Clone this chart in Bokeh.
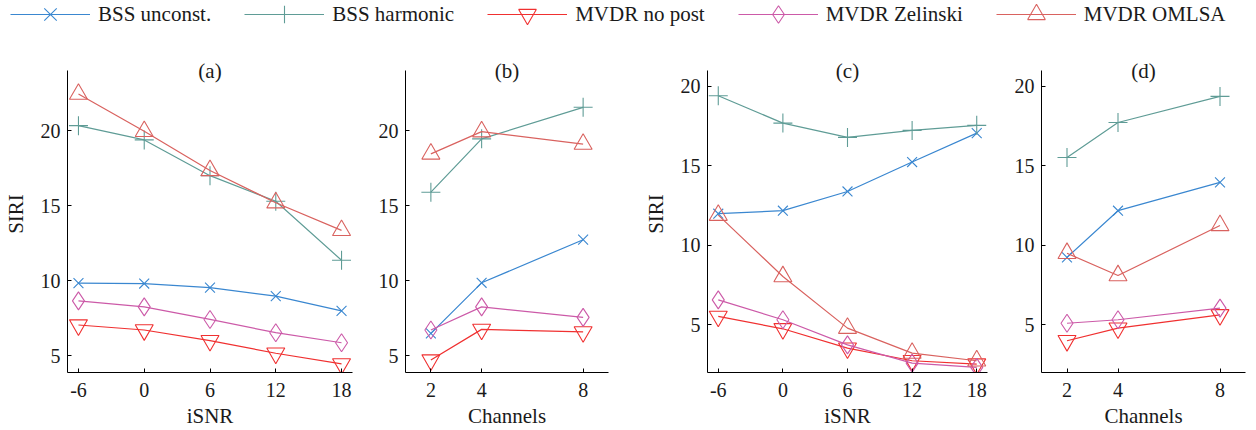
from bokeh.plotting import figure
from bokeh.layouts import column, row
from bokeh.models import Legend, LegendItem, Label, FixedTicker
from bokeh.embed import file_html
from bokeh.resources import INLINE

FONT = "Liberation Serif"
TXT = "#1a1a1a"

# ---------------- data ----------------
isnr = [-6, 0, 6, 12, 18]
isnr_labels = ["-6", "0", "6", "12", "18"]
channels = [2, 4, 8]
channel_labels = ["2", "4", "8"]
y_ticks = [5, 10, 15, 20]
y_tick_labels = ["5", "10", "15", "20"]

series_names = ["BSS unconst.", "BSS harmonic", "MVDR no post", "MVDR Zelinski", "MVDR OMLSA"]
series_colors = ["#3a87d0", "#5f9c96", "#f03030", "#cc5aa8", "#d9625f"]
series_markers = ["x", "cross", "inverted_triangle", "diamond", "triangle"]

# (a) SIRI vs iSNR
a_bss_unconst = [9.85, 9.82, 9.55, 8.98, 8.0]
a_bss_harmonic = [20.33, 19.38, 17.0, 15.3, 11.37]
a_mvdr_nopost = [7.06, 6.73, 6.02, 5.18, 4.47]
a_mvdr_zelinski = [8.67, 8.27, 7.43, 6.55, 5.88]
a_mvdr_omlsa = [22.43, 19.95, 17.35, 15.2, 13.36]

# (b) SIRI vs channels
b_bss_unconst = [6.5, 9.87, 12.74]
b_bss_harmonic = [15.9, 19.45, 21.55]
b_mvdr_nopost = [4.73, 6.77, 6.6]
b_mvdr_zelinski = [6.73, 8.27, 7.57]
b_mvdr_omlsa = [18.45, 19.93, 19.1]

# (c) SIRI vs iSNR
c_bss_unconst = [11.99, 12.18, 13.39, 15.24, 17.06]
c_bss_harmonic = [19.41, 17.69, 16.79, 17.23, 17.55]
c_mvdr_nopost = [5.53, 4.75, 3.53, 2.74, 2.53]
c_mvdr_zelinski = [6.57, 5.32, 3.74, 2.59, 2.32]
c_mvdr_omlsa = [11.9, 8.04, 4.79, 3.22, 2.74]

# (d) SIRI vs channels
d_bss_unconst = [9.24, 12.18, 13.96]
d_bss_harmonic = [15.53, 17.73, 19.37]
d_mvdr_nopost = [4.0, 4.79, 5.63]
d_mvdr_zelinski = [5.1, 5.32, 6.05]
d_mvdr_omlsa = [9.5, 8.1, 11.25]

# ---------------- styling ----------------
marker_sizes = {"x": 14, "cross": 19, "inverted_triangle": 18, "diamond": 18, "triangle": 18}
LEG_H = 26
ROW_H = 404
TOP = 29        # border above the (extended) frame
BOTTOM = 58     # border below the frame
FRAME_H = ROW_H - TOP - BOTTOM
PAD_PX = 15     # headroom above the axis line, for the panel letters


def make_panel(title, xs, ys_list, x_rng, y_lo, y_hi, xticks, xlabels, xlabel, ylabel,
               width, mbl, mbr):
    unit = (FRAME_H - PAD_PX) / (y_hi - y_lo)
    y_top = y_hi + PAD_PX / unit
    p = figure(width=width, height=ROW_H, x_range=x_rng, y_range=(y_lo, y_top),
               output_backend="svg", toolbar_location=None,
               min_border_left=mbl, min_border_right=mbr,
               min_border_top=TOP, min_border_bottom=BOTTOM)
    p.outline_line_color = None
    p.xgrid.grid_line_color = None
    p.ygrid.grid_line_color = None
    p.background_fill_color = "white"
    p.border_fill_color = "white"

    for ys, col, mk in zip(ys_list, series_colors, series_markers):
        p.line(xs, ys, line_color=col, line_width=1.2)
        p.scatter(xs, ys, marker=mk, size=marker_sizes[mk], line_color=col,
                  fill_color=None, line_width=1.1)

    p.xaxis.ticker = FixedTicker(ticks=xticks)
    p.xaxis.major_label_overrides = {t: l for t, l in zip(xticks, xlabels)}
    p.yaxis.ticker = FixedTicker(ticks=y_ticks)
    p.yaxis.major_label_overrides = {t: l for t, l in zip(y_ticks, y_tick_labels)}
    p.yaxis.bounds = (y_lo, y_hi)

    for ax in (p.xaxis[0], p.yaxis[0]):
        ax.axis_line_color = "black"
        ax.axis_line_width = 1
        ax.major_tick_line_color = "black"
        ax.major_tick_in = 4
        ax.major_tick_out = 0
        ax.minor_tick_line_color = None
        ax.major_label_text_font = FONT
        ax.major_label_text_font_size = "20px"
        ax.major_label_text_color = TXT
        ax.axis_label_text_font = FONT
        ax.axis_label_text_font_size = "21px"
        ax.axis_label_text_font_style = "normal"
        ax.axis_label_text_color = TXT
    p.xaxis.major_label_standoff = 10
    p.xaxis.axis_label_standoff = 4
    p.yaxis.major_label_standoff = 7
    p.yaxis.axis_label_standoff = 10
    p.xaxis.axis_label = xlabel
    if ylabel:
        p.yaxis.axis_label = ylabel

    p.add_layout(Label(x=(x_rng[0] + x_rng[1]) / 2, y=y_hi, text=title,
                       text_align="center", text_baseline="middle",
                       text_font=FONT, text_font_size="21px", text_color=TXT))
    return p


pa = make_panel("(a)", isnr,
                [a_bss_unconst, a_bss_harmonic, a_mvdr_nopost, a_mvdr_zelinski, a_mvdr_omlsa],
                (-7, 19), 3.9, 24, isnr, isnr_labels, "iSNR", "SIRI", 372, 64, 20)
pb = make_panel("(b)", channels,
                [b_bss_unconst, b_bss_harmonic, b_mvdr_nopost, b_mvdr_zelinski, b_mvdr_omlsa],
                (1, 9), 3.9, 24, channels, channel_labels, "Channels", None, 268, 33, 32)
pc = make_panel("(c)", isnr,
                [c_bss_unconst, c_bss_harmonic, c_mvdr_nopost, c_mvdr_zelinski, c_mvdr_omlsa],
                (-7, 19), 2, 21, isnr, isnr_labels, "iSNR", "SIRI", 365, 60, 18)
pd = make_panel("(d)", channels,
                [d_bss_unconst, d_bss_harmonic, d_mvdr_nopost, d_mvdr_zelinski, d_mvdr_omlsa],
                (1, 9), 2, 21, channels, channel_labels, "Channels", None, 243, 36, 3)

# ---------------- legend strip ----------------
lf = figure(width=1248, height=LEG_H, x_range=(0, 1), y_range=(0, 1),
            output_backend="svg", toolbar_location=None,
            x_axis_type=None, y_axis_type=None,
            min_border_left=0, min_border_right=0, min_border_top=0, min_border_bottom=0)
lf.outline_line_color = None
lf.xgrid.grid_line_color = None
lf.ygrid.grid_line_color = None

# legend proxies: one off-screen point each, so the legend has a style to draw
proxy_x = [-5.0]
proxy_y = [-5.0]
items = []
for name, col, mk in zip(series_names, series_colors, series_markers):
    lr = lf.line(x=proxy_x, y=proxy_y, line_color=col, line_width=1.2)
    sr = lf.scatter(x=proxy_x, y=proxy_y, marker=mk, size=marker_sizes[mk], line_color=col,
                    fill_color=None, line_width=1.1)
    items.append(LegendItem(label=name, renderers=[lr, sr]))

legend = Legend(items=items, orientation="horizontal", location=(10, -10),
                glyph_width=80, glyph_height=44, label_height=44,
                label_standoff=8, spacing=33,
                padding=0, margin=0, border_line_color=None,
                background_fill_alpha=0,
                label_text_font=FONT, label_text_font_size="21px",
                label_text_color=TXT)
lf.add_layout(legend)

layout = column(lf, row(pa, pb, pc, pd))

open("out.html", "w").write(file_html(layout, INLINE))
